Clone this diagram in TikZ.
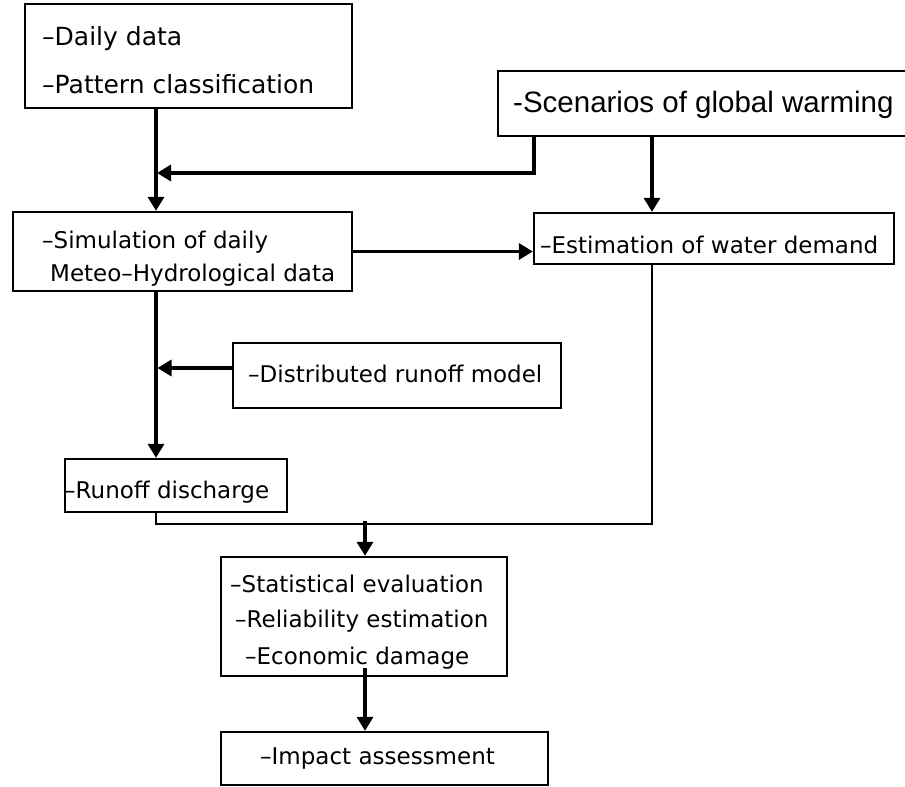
\documentclass[tikz,border=0pt]{standalone}
\usepackage{fontspec}
\newfontfamily\gfont{DejaVu Sans}
\newfontfamily\afont{Liberation Sans}
\usetikzlibrary{arrows.meta,calc}
\tikzset{
  boxs/.style={draw, line width=2.3pt, inner sep=0pt},
  txt/.style={inner sep=0pt, anchor=mid west, font={\gfont\fontsize{23}{27}\selectfont}},
  txtbig/.style={txt, font={\gfont\fontsize{25}{29}\selectfont}},
  arr/.style={line width=3.3pt, -{Triangle[length=14pt,width=16pt]}},
  conn/.style={line width=2.3pt},
}
\begin{document}
\begin{tikzpicture}[x=1pt,y=-1pt]
\fill[white] (0,0) rectangle (905,787);
\useasboundingbox (0,0) rectangle (905,787);
% boxes
\node[boxs, minimum width=327pt, minimum height=104pt] (a) at (188.5,56) {};
\node[inner sep=0pt, minimum width=407pt, minimum height=65pt] (scen) at (701.5,103.5) {};
\draw[line width=2.3pt] (scen.north east) -- (scen.north west) -- (scen.south west) -- (scen.south east);
\node[boxs, minimum width=339pt, minimum height=79pt] (sim) at (182.5,251.5) {};
\node[boxs, minimum width=360pt, minimum height=51pt] (water) at (714,238.5) {};
\node[boxs, minimum width=328pt, minimum height=65pt] (dist) at (397,375.5) {};
\node[boxs, minimum width=222pt, minimum height=53pt] (runoff) at (176,485.5) {};
\node[boxs, minimum width=286pt, minimum height=119pt] (stat) at (364,616.5) {};
\node[boxs, minimum width=327pt, minimum height=53pt] (impact) at (384.5,758.5) {};
% texts
\node[txtbig] (t1a) at (42,43) {–Daily data};
\node[txtbig] (t1b) at (42,91) {–Pattern classification};
\node[inner sep=0pt, anchor=mid west, font={\afont\fontsize{29.5}{34}\selectfont}] (tsc) at (513,110) {-Scenarios of global warming};
\node[txt] (t2a) at (42,246) {–Simulation of daily};
\node[txt] (t2b) at (50,279) {Meteo–Hydrological data};
\node[txt] (tw) at (540,251) {–Estimation of water demand};
\node[txt] (td) at (248,380) {–Distributed runoff model};
\node[txt] (tr) at (64,496) {–Runoff discharge};
\node[txt] (ts1) at (230,590) {–Statistical evaluation};
\node[txt] (ts2) at (235,625) {–Reliability estimation};
\node[txt] (ts3) at (245,662) {–Economic damage};
\node[txt] (ti) at (260,762) {–Impact assessment};
% helper coordinates
\coordinate (cl) at (156,0);
\coordinate (cw) at (652,0);
\coordinate (cs) at (534,0);
\coordinate (j1) at (157,173);
\coordinate (bus) at (652,524);
\coordinate (jm) at (365,521);
% connectors
\draw[arr] (a.south -| cl) -- (sim.north -| cl);
\draw[arr] (scen.south -| cs) |- (j1);
\draw[arr] (scen.south -| cw) -- (water.north -| cw);
\draw[arr] (sim.east) -- (sim.east -| water.west);
\draw[arr] (sim.south -| cl) -- (runoff.north -| cl);
\draw[arr] ($(dist.west)+(0,-7.5)$) -- ($(dist.west -| cl)+(1.5,-7.5)$);
\draw[conn] (runoff.south -| cl) |- (bus) -- (water.south -| cw);
\draw[arr] (jm) -- (stat.north -| jm);
\draw[arr] ($(stat.south -| jm)+(0,-9)$) -- (impact.north -| jm);
\end{tikzpicture}
\end{document}
